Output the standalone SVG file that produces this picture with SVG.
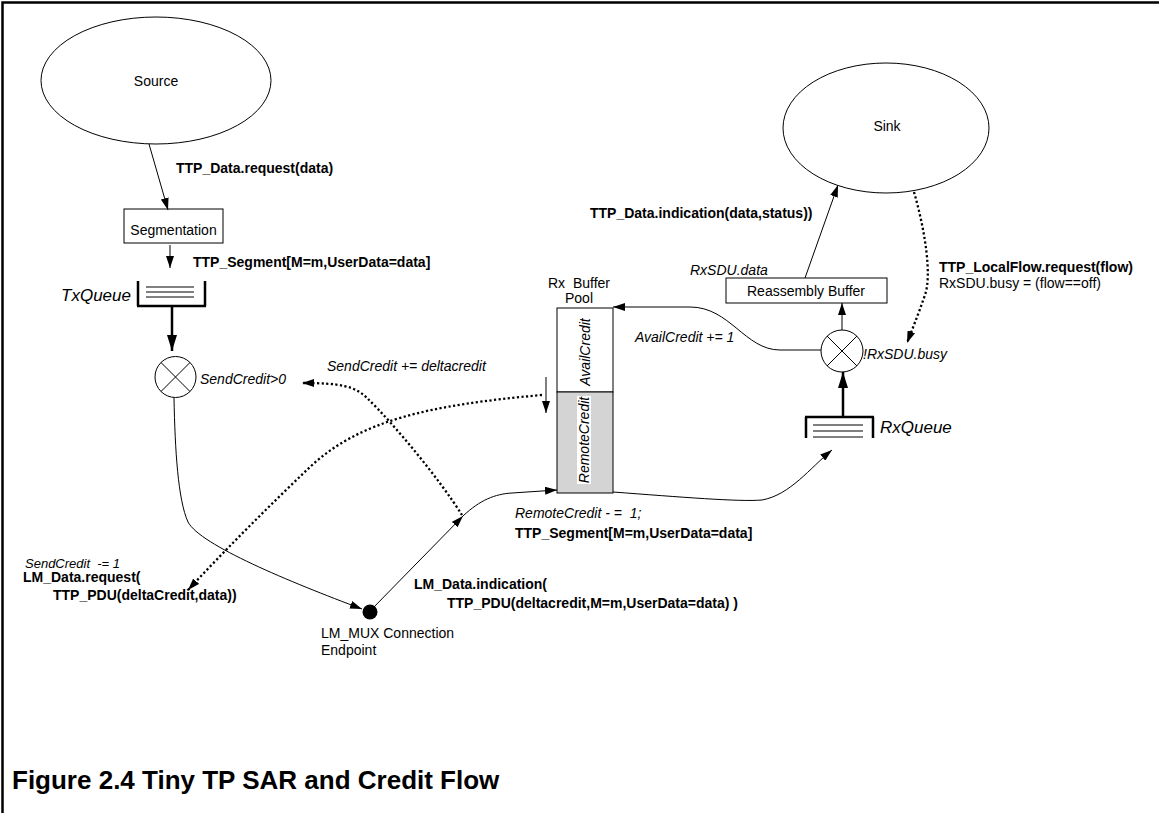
<svg xmlns="http://www.w3.org/2000/svg" width="1159" height="813" viewBox="0 0 1159 813">
<defs>
<style>
text{font-family:"Liberation Sans",Arial,Helvetica,sans-serif;fill:#000;white-space:pre}
.n{font-size:14px}
.b{font-size:14px;font-weight:bold}
.i{font-size:14px;font-style:italic}
.cap{font-size:26px;font-weight:bold}
.ln{fill:none;stroke:#000;stroke-width:1}
.dt{fill:none;stroke:#000;stroke-width:2.3;stroke-dasharray:2.2 2.4}
.tk{fill:none;stroke:#000;stroke-width:2.5}
.sh{fill:#fff;stroke:#000;stroke-width:1}
</style>
<marker id="ah" markerUnits="userSpaceOnUse" viewBox="0 0 12 8" refX="12" refY="4" markerWidth="12" markerHeight="8" orient="auto"><path d="M0,0 L12,4 L0,8 z" fill="#000"/></marker>
<marker id="ahb" markerUnits="userSpaceOnUse" viewBox="0 0 16 10" refX="16" refY="5" markerWidth="16" markerHeight="10" orient="auto"><path d="M0,0 L16,5 L0,10 z" fill="#000"/></marker>
</defs>
<rect x="0" y="0" width="1159" height="813" fill="#fff"/>
<path d="M2.5,813 V2.5 H1159" fill="none" stroke="#000" stroke-width="2.5"/>

<g id="source">
<ellipse class="sh" cx="156" cy="80.5" rx="115" ry="63.5"/>
<text class="n" x="156" y="86" text-anchor="middle">Source</text>
</g>

<g id="segmentation">
<rect class="sh" x="124" y="209" width="99" height="34"/>
<text class="n" x="173.5" y="235" text-anchor="middle">Segmentation</text>
</g>

<g id="txqueue">
<path d="M138,281 V306 M205,281 V306 M137,306 H206" class="tk"/>
<path d="M146,287 H194 M146,292 H194 M146,297 H194" class="ln"/>
<text class="i" style="font-size:17px" x="131" y="301" text-anchor="end">TxQueue</text>
</g>

<g id="txgate">
<circle class="sh" cx="175.5" cy="377" r="20.5"/>
<path class="ln" d="M161,362.5 L190,391.5 M190,362.5 L161,391.5"/>
<text class="i" x="200" y="384">SendCredit&gt;0</text>
</g>

<g id="lmmux">
<circle cx="370" cy="612" r="7.5" fill="#000"/>
<text class="n" x="321" y="638">LM_MUX Connection</text>
<text class="n" x="321" y="655">Endpoint</text>
</g>

<g id="rxbuffer">
<rect class="sh" x="557" y="308" width="56" height="84"/>
<rect x="557" y="392" width="56" height="101" fill="#d4d4d4" stroke="#000" stroke-width="1"/>
<rect x="577" y="396" width="14" height="88" fill="#fff"/>
<text class="i" transform="translate(590,352) rotate(-90)" text-anchor="middle">AvailCredit</text>
<text class="i" transform="translate(589,440) rotate(-90)" text-anchor="middle">RemoteCredit</text>
<text class="n" x="579" y="288" text-anchor="middle">Rx  Buffer</text>
<text class="n" x="579" y="303" text-anchor="middle">Pool</text>
</g>

<g id="sink">
<ellipse class="sh" cx="886" cy="128" rx="103" ry="65"/>
<text class="n" x="887" y="131" text-anchor="middle">Sink</text>
</g>

<g id="reassembly">
<rect class="sh" x="726" y="278" width="161" height="25"/>
<text class="n" x="806" y="296" text-anchor="middle">Reassembly Buffer</text>
</g>

<g id="rxgate">
<circle class="sh" cx="842" cy="351" r="21"/>
<path class="ln" d="M827,336 L857,366 M857,336 L827,366"/>
<text class="i" x="863" y="359">!RxSDU.busy</text>
</g>

<g id="rxqueue">
<path d="M806,438 V417 M873,438 V417 M805,417 H874" class="tk"/>
<path d="M813,425 H863 M813,431 H863 M813,437 H863" class="ln"/>
<text class="i" style="font-size:17px" x="880" y="433">RxQueue</text>
</g>

<g id="connectors">
<path class="ln" d="M149,144 L168,210" marker-end="url(#ah)"/>
<path class="ln" d="M170,245 L170,268" marker-end="url(#ah)"/>
<path class="tk" d="M172,307 L172,351" marker-end="url(#ahb)"/>
<path class="ln" d="M174,398 C175,450 178,500 188,522 C200,545 290,582 362,609" marker-end="url(#ah)"/>
<path class="ln" d="M372,609 L463,516" marker-end="url(#ah)"/>
<path class="ln" d="M463,516 C480,500 495,494 512,493 L557,490" marker-end="url(#ah)"/>
<path class="ln" d="M613,492 C680,497 740,502 762,500 C790,495 810,468 832,450" marker-end="url(#ah)"/>
<path class="tk" d="M843,417 L843,372" marker-end="url(#ahb)"/>
<path class="ln" d="M842,330 L842,303" marker-end="url(#ah)"/>
<path class="ln" d="M821,350 L780,350 C745,350 730,307 690,307 L613,307" marker-end="url(#ah)"/>
<path class="ln" d="M805,278 L838,185" marker-end="url(#ah)"/>
<path class="ln" d="M546,377 L546,413" marker-end="url(#ah)"/>
<path class="dt" d="M462,515 C440,480 395,425 367,398 C355,386 340,383 302,383" marker-end="url(#ah)"/>
<path class="dt" d="M542,395 C430,405 360,420 310,467 C270,505 225,550 188,590" marker-end="url(#ah)"/>
<path class="dt" d="M914,192 C925,230 932,275 925,295 C918,315 912,330 907,343" marker-end="url(#ah)"/>
</g>

<g id="labels">
<text class="b" x="176" y="173">TTP_Data.request(data)</text>
<text class="b" x="193" y="267">TTP_Segment[M=m,UserData=data]</text>
<text class="i" x="327" y="371">SendCredit += deltacredit</text>
<text class="i" x="635" y="342">AvailCredit += 1</text>
<text class="i" x="515" y="518">RemoteCredit - =  1;</text>
<text class="b" x="515" y="538">TTP_Segment[M=m,UserData=data]</text>
<text class="b" x="414" y="589">LM_Data.indication(</text>
<text class="b" x="447" y="608">TTP_PDU(deltacredit,M=m,UserData=data) )</text>
<text class="i" style="font-size:13px" x="25" y="568">SendCredit  -= 1</text>
<text class="b" x="23" y="582">LM_Data.request(</text>
<text class="b" x="53" y="600">TTP_PDU(deltaCredit,data))</text>
<text class="b" x="590" y="218">TTP_Data.indication(data,status))</text>
<text class="i" x="690" y="275">RxSDU.data</text>
<text class="b" x="939" y="272">TTP_LocalFlow.request(flow)</text>
<text class="n" x="939" y="288">RxSDU.busy = (flow==off)</text>
<text class="cap" x="12" y="789">Figure 2.4 Tiny TP SAR and Credit Flow</text>
</g>
</svg>
